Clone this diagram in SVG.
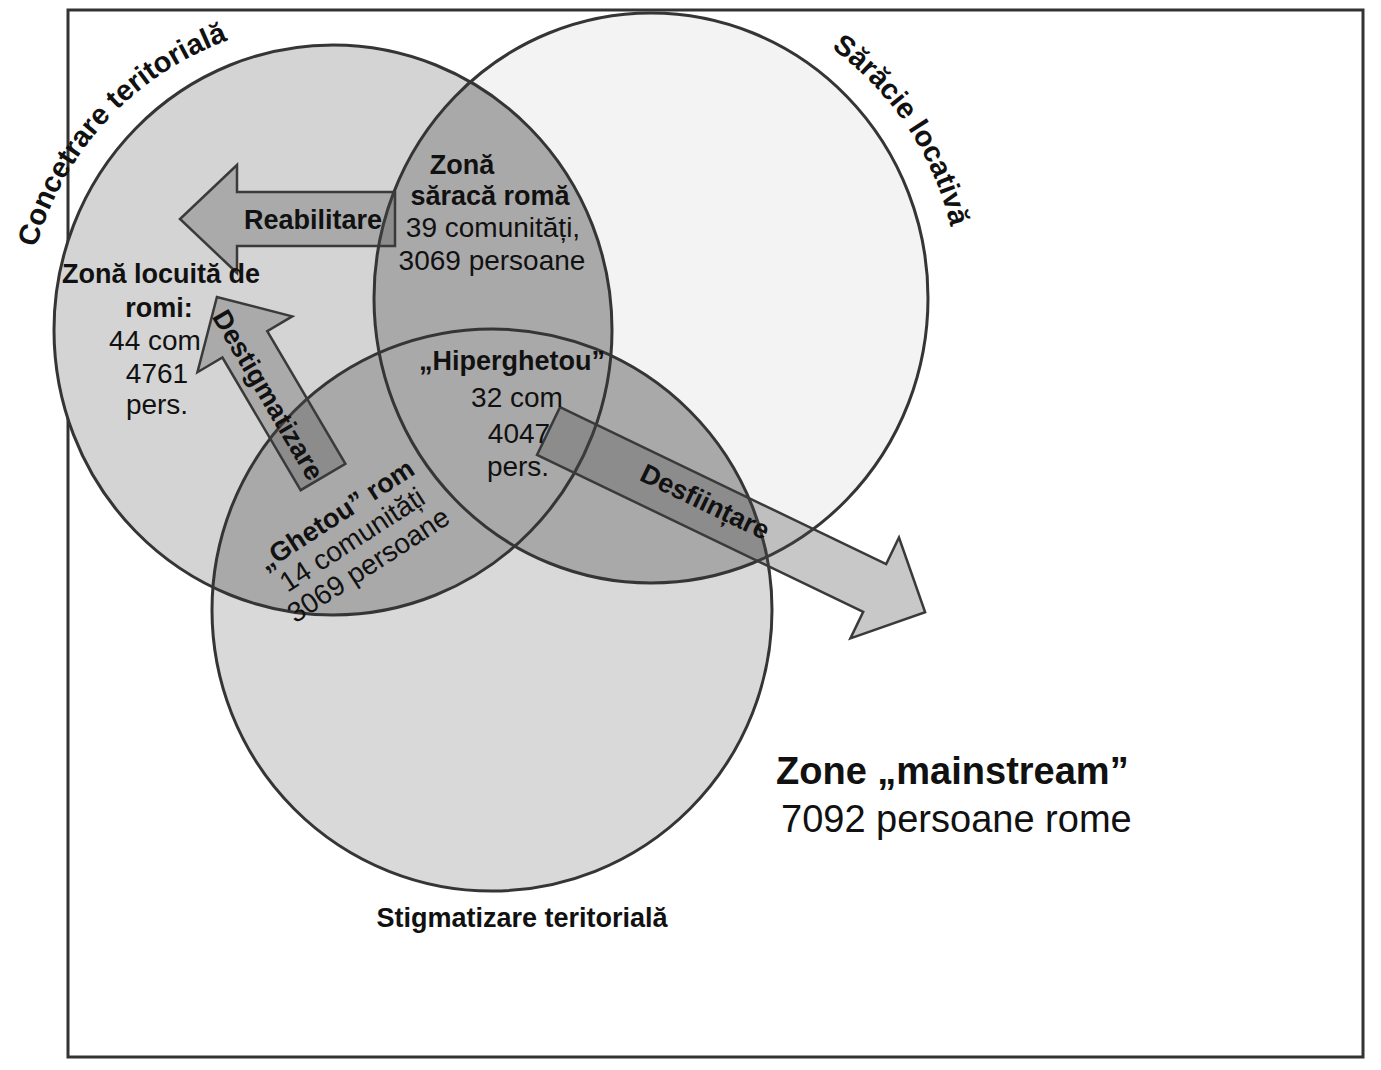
<svg xmlns="http://www.w3.org/2000/svg" width="1381" height="1070" viewBox="0 0 1381 1070">
<defs>
<style>
.circ{fill:none;stroke:#353535;stroke-width:3}
.arrow{fill:#4a4a4a;fill-opacity:0.3;stroke:#3a3a3a;stroke-width:2.5;stroke-linejoin:miter}
.b{font-family:"Liberation Sans",Arial,sans-serif;font-weight:bold;font-size:27px;fill:#111}
.r{font-family:"Liberation Sans",Arial,sans-serif;font-size:28px;fill:#111}
.m{text-anchor:middle}
.ov{fill:#a9a9a9}
.big{font-size:38px}
.arcl{font-size:29px}
</style>
<clipPath id="k1"><ellipse cx="333" cy="330" rx="279" ry="285"/></clipPath>
<clipPath id="k2"><ellipse cx="651" cy="298" rx="277" ry="285"/></clipPath>
<path id="arc1" d="M 36.9 414.9 A 308 308 0 0 1 407.5 31.1"/>
<path id="arc2" d="M 624.2 -8.8 A 308 308 0 0 1 930.1 428.2"/>
</defs>
<rect width="1381" height="1070" fill="#ffffff"/>
<rect x="68" y="10" width="1295" height="1047" fill="none" stroke="#333" stroke-width="3"/>

<g id="fills">
<ellipse cx="333" cy="330" rx="279" ry="285" fill="#d4d4d4"/>
<ellipse cx="651" cy="298" rx="277" ry="285" fill="#f3f3f3"/>
<ellipse cx="492" cy="610" rx="280" ry="281" fill="#d9d9d9"/>
<ellipse class="ov" cx="651" cy="298" rx="277" ry="285" clip-path="url(#k1)"/>
<ellipse class="ov" cx="492" cy="610" rx="280" ry="281" clip-path="url(#k1)"/>
<ellipse class="ov" cx="492" cy="610" rx="280" ry="281" clip-path="url(#k2)"/>
</g>

<g id="node-concentrare">
<ellipse class="circ" cx="333" cy="330" rx="279" ry="285"/>
<text class="b m arcl"><textPath href="#arc1" startOffset="49%">Concetrare teritorială</textPath></text>
</g>
<g id="node-saracie">
<ellipse class="circ" cx="651" cy="298" rx="277" ry="285"/>
<text class="b m arcl"><textPath href="#arc2" startOffset="51%">Sărăcie locativă</textPath></text>
</g>
<g id="node-stigmatizare">
<ellipse class="circ" cx="492" cy="610" rx="280" ry="281"/>
<text class="b m" x="522" y="927">Stigmatizare teritorială</text>
</g>

<g id="connectors">
<g id="arrow-reabilitare">
<path class="arrow" transform="translate(395,219) rotate(180)" d="M0,-27 L158,-27 L158,-54 L215,0 L158,54 L158,27 L0,27 Z"/>
<text class="b m" x="313" y="229">Reabilitare</text>
</g>
<g id="arrow-destigmatizare">
<path class="arrow" transform="translate(323,477) rotate(-120.5)" d="M0,-26 L154,-26 L154,-55 L209,0 L154,55 L154,26 L0,26 Z"/>
<text class="b m" transform="translate(268,395) rotate(59.5)" y="9">Destigmatizare</text>
</g>
<g id="arrow-desfiintare">
<path class="arrow" transform="translate(548.5,431) rotate(25.7)" d="M0,-26.5 L362,-26.5 L362,-56 L418,0 L362,56 L362,26.5 L0,26.5 Z"/>
<text class="b m" transform="translate(705,502) rotate(25.7)" y="9">Desființare</text>
</g>
</g>

<g id="node-zona-saraca">
<text class="b m" x="462" y="174">Zonă</text>
<text class="b m" x="490" y="205">săracă romă</text>
<text class="r m" x="493" y="237">39 comunități,</text>
<text class="r m" x="492" y="270">3069 persoane</text>
</g>
<g id="node-zona-locuita">
<text class="b m" x="161" y="283">Zonă locuită de</text>
<text class="b m" x="159" y="317">romi:</text>
<text class="r m" x="155" y="350">44 com</text>
<text class="r m" x="157" y="383">4761</text>
<text class="r m" x="157" y="414">pers.</text>
</g>
<g id="node-hiperghetou">
<text class="b m" x="512" y="370">„Hiperghetou”</text>
<text class="r m" x="517" y="407">32 com</text>
<text class="r m" x="519" y="443">4047</text>
<text class="r m" x="518" y="476">pers.</text>
</g>
<g id="node-ghetou" transform="translate(336,515) rotate(-33)">
<text class="b m" x="0" y="9">„Ghetou” rom</text>
<text class="r m" x="0" y="39">14 comunități</text>
<text class="r m" x="0" y="69">3069 persoane</text>
</g>
<g id="node-mainstream">
<text class="b big" x="776" y="784">Zone „mainstream”</text>
<text class="r big" x="781" y="832">7092 persoane rome</text>
</g>
</svg>
